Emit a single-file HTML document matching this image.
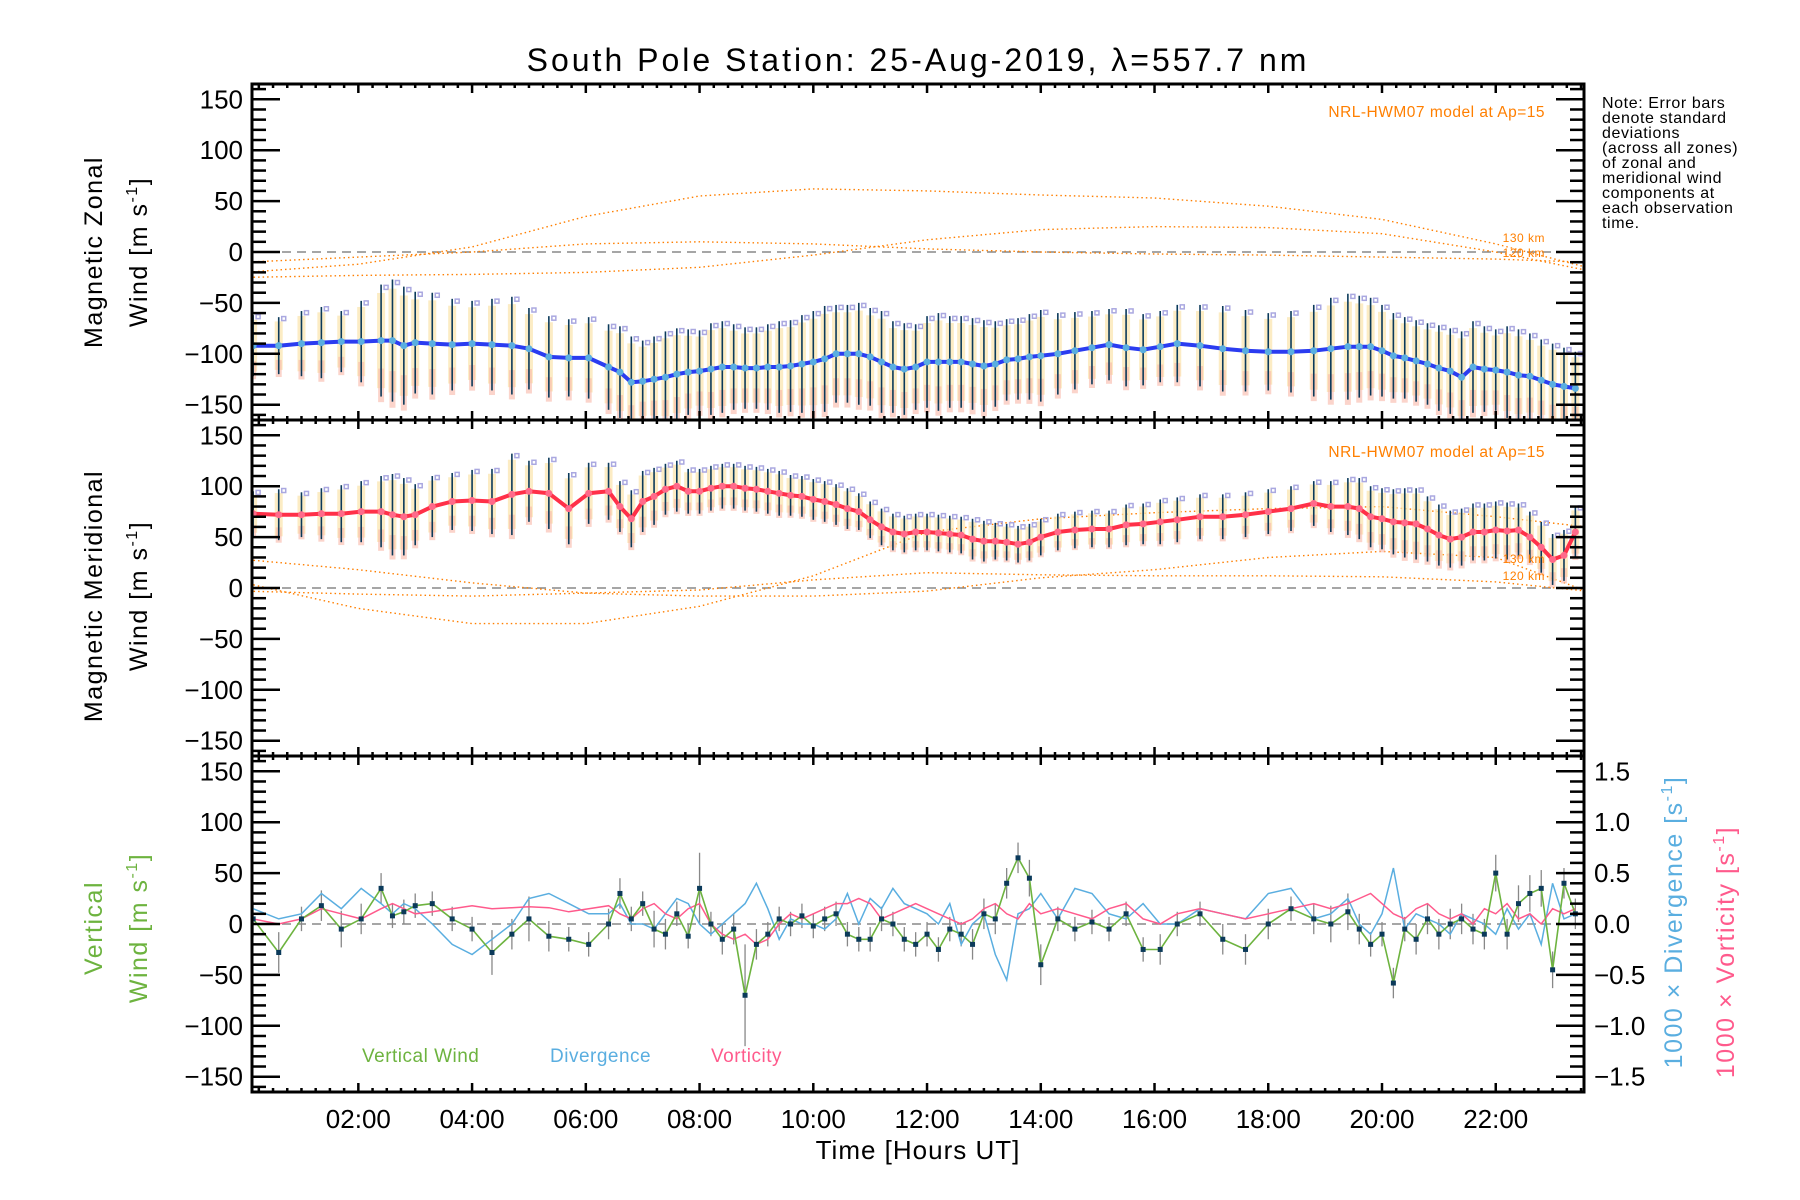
<!DOCTYPE html>
<html><head><meta charset="utf-8">
<style>
html,body{margin:0;padding:0;background:#fff;}
svg{display:block;font-family:"Liberation Sans",sans-serif;}
</style></head>
<body>
<svg id="chart" width="1800" height="1200" viewBox="0 0 1800 1200" xmlns="http://www.w3.org/2000/svg">
<rect width="1800" height="1200" fill="#fff"/>
<text x="918" y="71" font-size="32" text-anchor="middle" letter-spacing="3">South Pole Station: 25-Aug-2019, λ=557.7 nm</text>
<g font-size="16" letter-spacing="0.6" fill="#000">
<text x="1602" y="108">Note: Error bars</text>
<text x="1602" y="123">denote standard</text>
<text x="1602" y="138">deviations</text>
<text x="1602" y="153">(across all zones)</text>
<text x="1602" y="168">of zonal and</text>
<text x="1602" y="183">meridional wind</text>
<text x="1602" y="198">components at</text>
<text x="1602" y="213">each observation</text>
<text x="1602" y="228">time.</text>
</g>
<defs>
<clipPath id="c0"><rect x="252" y="84" width="1332" height="336"/></clipPath>
<clipPath id="c1"><rect x="252" y="420" width="1332" height="336"/></clipPath>
<clipPath id="c2"><rect x="252" y="756" width="1332" height="336"/></clipPath>
</defs>
<g id="layer"></g>
</svg>
<script>
const times = [0.15,0.6,1.0,1.35,1.7,2.05,2.4,2.6,2.8,3.0,
3.3,3.65,4.0,4.35,4.7,5.0,5.35,5.7,6.05,6.4,
6.6,6.8,7.0,7.2,7.4,7.6,7.8,8.0,8.2,8.4,
8.6,8.8,9.0,9.2,9.4,9.6,9.8,10.0,10.2,10.4,
10.6,10.8,11.0,11.2,11.4,11.6,11.8,12.0,12.2,12.4,
12.6,12.8,13.0,13.2,13.4,13.6,13.8,14.0,14.3,14.6,
14.9,15.2,15.5,15.8,16.1,16.4,16.8,17.2,17.6,18.0,
18.4,18.8,19.1,19.4,19.6,19.8,20.0,20.2,20.4,20.6,
20.8,21.0,21.2,21.4,21.6,21.8,22.0,22.2,22.4,22.6,
22.8,23.0,23.2,23.4];
const zonal = [-92,-92,-90,-89,-88,-88,-87,-87,-92,-89,
-90,-91,-90,-91,-92,-95,-103,-104,-104,-113,
-118,-128,-127,-125,-123,-120,-118,-117,-115,-113,
-113,-114,-114,-113,-113,-112,-110,-108,-105,-100,
-100,-100,-103,-108,-113,-115,-113,-108,-108,-108,
-108,-110,-112,-110,-106,-105,-103,-102,-100,-97,
-94,-91,-94,-96,-93,-90,-92,-95,-97,-98,
-98,-97,-95,-93,-93,-93,-97,-102,-104,-107,
-110,-114,-117,-123,-113,-115,-116,-118,-121,-122,
-126,-130,-132,-134];
const zonalErr = [30,28,32,35,30,40,55,60,58,50,
50,45,42,45,48,40,40,38,40,42,
45,45,40,42,45,45,42,40,45,45,
42,40,40,42,45,45,48,50,52,48,
48,50,48,50,45,45,42,45,48,45,
45,45,45,42,40,40,42,45,40,38,
36,35,38,35,35,38,40,42,40,38,
40,45,50,52,50,48,45,42,40,40,
40,42,42,45,45,42,40,45,45,42,
40,40,38,36];
const merid = [73,72,72,73,73,75,75,72,70,72,
80,85,86,85,92,95,93,78,93,95,
80,68,85,90,97,100,95,95,98,100,
100,98,97,95,93,91,90,87,85,82,
78,75,67,60,55,53,55,55,54,53,
52,48,46,46,45,43,45,50,55,57,
58,58,62,63,65,67,70,70,72,75,
78,83,80,80,78,70,68,65,64,63,
58,52,48,50,55,55,57,56,57,50,
40,28,32,55];
const meridErr = [22,25,22,25,28,30,35,40,38,30,
30,28,30,32,40,30,35,35,30,28,
25,28,30,28,25,25,22,22,22,22,
22,22,22,22,22,20,20,20,20,20,
20,18,18,18,18,18,18,18,18,18,
18,20,20,18,18,18,18,18,18,18,
18,18,20,20,22,22,22,22,22,22,
22,22,25,28,30,30,30,32,34,35,
32,30,28,28,28,28,28,28,26,25,
25,25,25,25];
const vert = [5,-28,5,18,-5,5,35,8,12,18,
20,5,-5,-28,-10,5,-12,-15,-20,0,
30,5,20,-5,-10,10,-12,35,0,-15,
-5,-70,-20,-10,5,0,8,-2,5,10,
-10,-15,-15,5,0,-15,-20,-10,-25,-5,
-10,-20,10,5,40,65,45,-40,5,-5,
2,-5,10,-25,-25,0,10,-15,-25,0,
15,5,0,12,-5,-20,-10,-58,-5,-15,
5,-10,0,5,-5,-10,50,-10,20,30,
35,-45,40,10];
const vertErr = [18,20,12,15,18,15,15,12,12,12,
12,12,12,22,15,22,15,12,12,15,
15,12,12,18,15,12,12,35,12,15,
15,50,15,12,12,12,12,12,12,12,
12,12,12,12,12,12,12,12,12,12,
12,15,15,15,15,15,18,20,12,12,
12,12,12,12,15,12,12,15,15,15,
12,15,18,18,15,12,12,15,12,15,
15,15,15,15,15,15,18,15,18,18,
18,18,15,15];
const diverg = [0.15,0.05,0.1,0.3,0.15,0.35,0.2,0.1,0.2,0.15,
0.0,-0.2,-0.3,-0.15,0.0,0.25,0.3,0.2,0.1,0.1,
0.2,0.0,0.0,-0.05,0.1,0.25,0.2,0.0,-0.1,0.0,
0.1,0.2,0.4,0.15,-0.15,0.05,0.0,0.0,-0.05,0.05,
0.3,0.0,0.25,0.15,0.35,0.2,0.15,0.1,0.0,0.2,
-0.2,0.0,0.1,-0.3,-0.55,0.1,0.15,0.3,0.05,0.35,
0.3,0.1,0.05,0.2,0.0,0.0,0.15,0.1,0.05,0.3,
0.35,0.05,0.1,0.25,0.0,-0.1,0.1,0.55,-0.05,0.1,
0.05,0.0,-0.1,0.1,0.05,0.0,-0.1,0.15,-0.05,0.1,
-0.2,0.4,0.05,0.1];
const vortic = [0.05,0.0,0.05,0.15,0.1,0.05,0.15,0.2,0.15,0.1,
0.12,0.15,0.18,0.15,0.16,0.17,0.16,0.12,0.15,0.18,
0.1,0.05,0.15,0.2,0.1,0.05,0.15,0.2,0.0,-0.1,
-0.15,-0.1,-0.2,-0.15,0.0,0.1,0.05,0.1,0.15,0.2,
0.2,0.25,0.2,0.05,0.1,0.15,0.2,0.15,0.1,0.05,
0.0,0.05,0.15,0.2,0.1,0.05,0.2,0.1,0.15,0.1,
0.05,0.15,0.2,0.05,0.0,0.1,0.15,0.1,0.05,0.1,
0.15,0.2,0.15,0.2,0.25,0.3,0.2,0.1,0.05,0.15,
0.2,0.1,0.05,0.1,0.0,0.15,0.1,0.2,0.05,0.1,
0.0,0.15,0.1,0.15];
const modelTimes = [0,2,4,6,8,10,12,14,16,18,20,22,23.6];
const zonalModelA = [-20,-12,5,35,55,62,60,56,53,45,32,8,-15];
const zonalModelB = [-10,-5,0,8,10,8,3,0,-2,-3,-5,-7,-10];
const zonalModelC = [-25,-23,-22,-20,-15,-3,12,22,25,24,18,0,-18];
const meridModelA = [28,18,5,-5,-8,-8,-3,10,18,30,36,30,-3];
const meridModelB = [5,-20,-35,-35,-18,12,55,68,74,78,80,70,60];
const meridModelC = [-3,-6,-8,-5,-2,8,15,13,12,12,11,6,-3];
const xTickLabels = ["02:00","04:00","06:00","08:00","10:00","12:00","14:00","16:00","18:00","20:00","22:00"];
const yTickValues = [150,100,50,0,-50,-100,-150];
const rightTickValues = [1.5,1.0,0.5,0.0,-0.5,-1.0,-1.5];

const NS = "http://www.w3.org/2000/svg";
const layer = document.getElementById('layer');
const tops = [84,420,756];
const X0 = 252, X1 = 1584;
function X(h){ return 244.6 + h*56.87; }
function Y(p,v){ return tops[p] + 168 - v*1.018; }
function mk(tag, attrs, parent){
  const e = document.createElementNS(NS, tag);
  for (const k in attrs) e.setAttribute(k, attrs[k]);
  (parent||layer).appendChild(e);
  return e;
}
function grp(name, clip){
  const g = mk('g', clip ? {'clip-path':'url(#'+clip+')'} : {});
  
  
  return g;
}
function fmtNeg(v, d){ const s = Math.abs(v).toFixed(d); return v<0 ? '\u2212'+s : s; }

for (let p=0;p<3;p++){
  const zl = mk('line',{x1:X0,x2:X1,y1:Y(p,0),y2:Y(p,0),stroke:'#888','stroke-width':1.5,'stroke-dasharray':'9,6'});
  
  
}

function modelCurve(p, arr, clip, name){
  const g = grp(name, clip);
  const d = modelTimes.map((t,i)=>(i?'L':'M')+X(t).toFixed(1)+','+Y(p,arr[i]).toFixed(1)).join(' ');
  mk('path',{d:d,fill:'none',stroke:'#ff7f00','stroke-width':1.4,'stroke-dasharray':'1.5,3'},g);
}
modelCurve(0, zonalModelA, 'c0', 'zonal-model-a');
modelCurve(0, zonalModelB, 'c0', 'zonal-model-b');
modelCurve(0, zonalModelC, 'c0', 'zonal-model-c');
modelCurve(1, meridModelA, 'c1', 'merid-model-a');
modelCurve(1, meridModelB, 'c1', 'merid-model-b');
modelCurve(1, meridModelC, 'c1', 'merid-model-c');

function windPanel(p, vals, errs, clip, lineCol, dotCol, name){
  const zg = grp(name+'-zones', clip);
  times.forEach((t,i)=>{
    const x = X(t), lo = Y(p, vals[i]-errs[i]*0.85), hi = Y(p, vals[i]+errs[i]*0.85);
    mk('rect',{x:x-4,y:hi,width:8,height:lo-hi,fill:'#fbe6b0',opacity:0.75},zg);
    mk('rect',{x:x-3,y:Y(p,vals[i]-errs[i]*0.5),width:6,height:(errs[i]*0.6)*1.018,fill:'#f8b8a8',opacity:0.6},zg);
    mk('rect',{x:x+3,y:Y(p,vals[i]+errs[i]*0.95)-2,width:4,height:4,fill:'none',stroke:'#aaa8e0','stroke-width':1.5},zg);
  });
  const eg = grp(name+'-error-bars', clip);
  times.forEach((t,i)=>{
    const x = X(t);
    mk('line',{x1:x,x2:x,y1:Y(p,vals[i]-errs[i]),y2:Y(p,vals[i]+errs[i]),stroke:'#0b3a5a','stroke-width':1.6},eg);
  });
  const lg = grp(name+'-mean-line', clip);
  const d = times.map((t,i)=>(i?'L':'M')+X(t).toFixed(1)+','+Y(p,vals[i]).toFixed(1)).join(' ');
  mk('path',{d:d,fill:'none',stroke:lineCol,'stroke-width':4,'stroke-linejoin':'round'},lg);
  times.forEach((t,i)=>{
    mk('circle',{cx:X(t),cy:Y(p,vals[i]),r:3.5,fill:dotCol},lg);
  });
}
windPanel(0, zonal, zonalErr, 'c0', '#2b3cf0', '#5aaee0', 'zonal');
windPanel(1, merid, meridErr, 'c1', '#ff3048', '#ff6a8a', 'meridional');

(function(){
  const eg = grp('vertical-error-bars','c2');
  times.forEach((t,i)=>{
    mk('line',{x1:X(t),x2:X(t),y1:Y(2,vert[i]-vertErr[i]),y2:Y(2,vert[i]+vertErr[i]),stroke:'#888','stroke-width':1.3},eg);
  });
  const dg = grp('divergence-line','c2');
  mk('path',{d:times.map((t,i)=>(i?'L':'M')+X(t).toFixed(1)+','+Y(2,diverg[i]*100).toFixed(1)).join(' '),fill:'none',stroke:'#5aaee0','stroke-width':1.5},dg);
  const vg = grp('vorticity-line','c2');
  mk('path',{d:times.map((t,i)=>(i?'L':'M')+X(t).toFixed(1)+','+Y(2,vortic[i]*100).toFixed(1)).join(' '),fill:'none',stroke:'#ff5a8c','stroke-width':1.5},vg);
  const wg = grp('vertical-wind-line','c2');
  mk('path',{d:times.map((t,i)=>(i?'L':'M')+X(t).toFixed(1)+','+Y(2,vert[i]).toFixed(1)).join(' '),fill:'none',stroke:'#6db33f','stroke-width':1.6},wg);
  times.forEach((t,i)=>{
    mk('rect',{x:X(t)-2.5,y:Y(2,vert[i])-2.5,width:5,height:5,fill:'#0b3a5a'},wg);
  });
})();

const ax = grp('axes', null);
for (let p=0;p<3;p++){
  const top = tops[p];
  mk('rect',{x:X0,y:top,width:X1-X0,height:336,fill:'none',stroke:'#000','stroke-width':3},ax);
  for (let v=-160; v<=160; v+=10){
    const y = Y(p,v); if (y<top+2 || y>top+334) continue;
    const L = (v%50===0)?28:14;
    mk('line',{x1:X0,x2:X0+L,y1:y,y2:y,stroke:'#000','stroke-width':2.5},ax);
    if (p<2) mk('line',{x1:X1,x2:X1-L,y1:y,y2:y,stroke:'#000','stroke-width':2.5},ax);
  }
  if (p===2){
    for (let k=-15;k<=15;k++){
      const v = k*10; const y = Y(2,v);
      const L = (k%5===0)?28:14;
      mk('line',{x1:X1,x2:X1-L,y1:y,y2:y,stroke:'#000','stroke-width':2.5},ax);
    }
  }
  for (let q=1;q<=94;q++){
    const h = q*0.25; const x = X(h); if (x<=X0+2||x>=X1-2) continue;
    const L = (q%8===0)?8:3;
    mk('line',{x1:x,x2:x,y1:top,y2:top+L+1,stroke:'#000','stroke-width':2.5},ax);
    mk('line',{x1:x,x2:x,y1:top+336,y2:top+336-L-1,stroke:'#000','stroke-width':2.5},ax);
  }
  yTickValues.forEach(v=>{
    const t = mk('text',{x:243,y:Y(p,v)+9,'font-size':26,'text-anchor':'end'},ax);
    t.textContent = fmtNeg(v,0);
    
    
  });
}
rightTickValues.forEach(v=>{
  const t = mk('text',{x:1594,y:Y(2,v*100)+9,'font-size':26},ax);
  t.textContent = fmtNeg(v,1);
  
  
});
xTickLabels.forEach((s,i)=>{
  const t = mk('text',{x:X((i+1)*2),y:1128,'font-size':26,'text-anchor':'middle'},ax);
  t.textContent = s;
  
  
});
</script>
<svg style="position:absolute;left:0;top:0" width="1800" height="1200" xmlns="http://www.w3.org/2000/svg" font-family="Liberation Sans, sans-serif">
<text x="918" y="1159" font-size="26" text-anchor="middle" letter-spacing="1">Time [Hours UT]</text>
<g font-size="25" text-anchor="middle" letter-spacing="1.5">
<text transform="translate(102,252) rotate(-90)">Magnetic Zonal</text>
<text transform="translate(147,252) rotate(-90)">Wind [m s<tspan font-size="16" dy="-10">-1</tspan><tspan dy="10">]</tspan></text>
<text transform="translate(102,596) rotate(-90)">Magnetic Meridional</text>
<text transform="translate(147,596) rotate(-90)">Wind [m s<tspan font-size="16" dy="-10">-1</tspan><tspan dy="10">]</tspan></text>
<text fill="#6db33f" transform="translate(102,928) rotate(-90)">Vertical</text>
<text fill="#6db33f" transform="translate(147,928) rotate(-90)">Wind [m s<tspan font-size="16" dy="-10">-1</tspan><tspan dy="10">]</tspan></text>
<text fill="#5aaee0" transform="translate(1682,922) rotate(-90)">1000 × Divergence [s<tspan font-size="16" dy="-10">-1</tspan><tspan dy="10">]</tspan></text>
<text fill="#ff5a8c" transform="translate(1734,952) rotate(-90)">1000 × Vorticity [s<tspan font-size="16" dy="-10">-1</tspan><tspan dy="10">]</tspan></text>
</g>
<g font-size="15.5" fill="#ff7f00" text-anchor="end" letter-spacing="0.5">
<text x="1545" y="117">NRL-HWM07 model at Ap=15</text>
<text x="1545" y="457">NRL-HWM07 model at Ap=15</text>
<text x="1545" y="242" font-size="12">130 km</text>
<text x="1545" y="257" font-size="12">120 km</text>
<text x="1545" y="563" font-size="12">130 km</text>
<text x="1545" y="580" font-size="12">120 km</text>
</g>
<g font-size="19" letter-spacing="0.5">
<text x="362" y="1062" fill="#6db33f">Vertical Wind</text>
<text x="550" y="1062" fill="#5aaee0">Divergence</text>
<text x="711" y="1062" fill="#ff5a8c">Vorticity</text>
</g>
</svg>
</body></html>
